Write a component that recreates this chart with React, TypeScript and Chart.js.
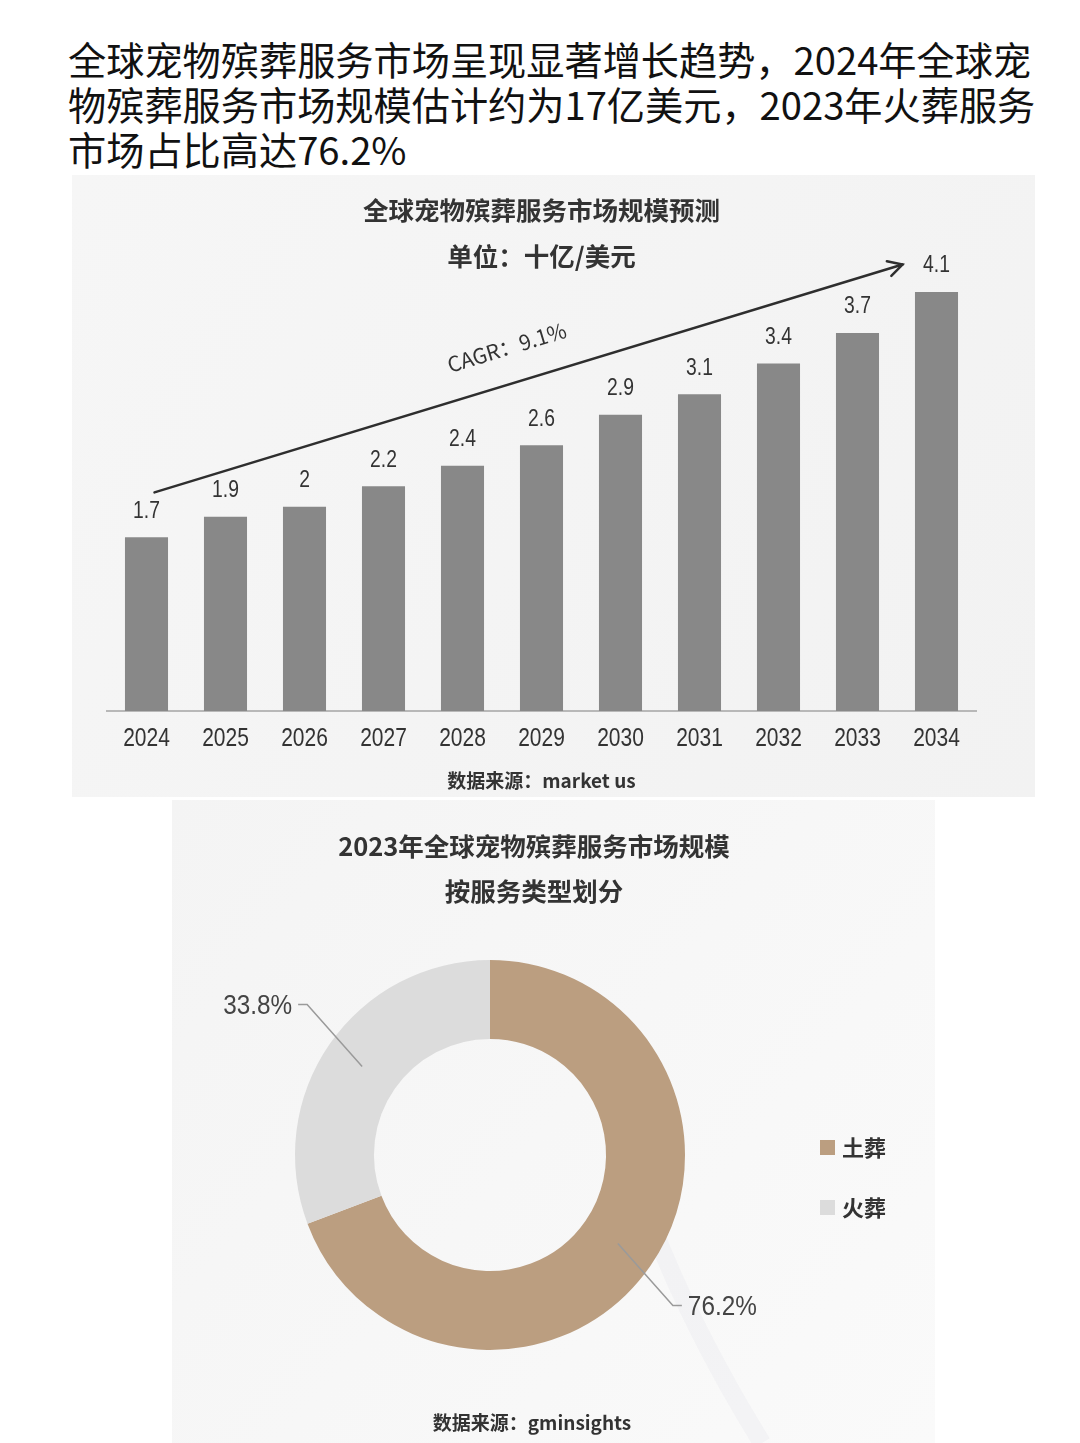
import React, { useEffect, useRef } from 'react';
import { Chart, registerables } from 'chart.js';

Chart.register(...registerables);

// ---------- data ----------
const headlineLines = [
  '全球宠物殡葬服务市场呈现显著增长趋势，2024年全球宠',
  '物殡葬服务市场规模估计约为17亿美元，2023年火葬服务',
  '市场占比高达76.2%',
];

const barTitle = '全球宠物殡葬服务市场规模预测';
const barUnit = '单位：十亿/美元';
const years = ['2024', '2025', '2026', '2027', '2028', '2029', '2030', '2031', '2032', '2033', '2034'];
const marketSize = [1.7, 1.9, 2, 2.2, 2.4, 2.6, 2.9, 3.1, 3.4, 3.7, 4.1];
const cagrLabel = 'CAGR：9.1%';
const barSource = '数据来源：market us';

const pieTitleLines = ['2023年全球宠物殡葬服务市场规模', '按服务类型划分'];
const serviceTypes = ['土葬', '火葬'];
const serviceShare = [76.2, 33.8];
const serviceLabels = ['76.2%', '33.8%'];
const pieSource = '数据来源：gminsights';

// ---------- styles ----------
const CJK = "'Noto Sans CJK SC', 'Noto Sans', sans-serif";
const LATIN = "'Liberation Sans', 'Noto Sans', sans-serif";
const BAR_COLOR = '#888888';
const PIE_COLORS = ['#bb9e80', '#dcdcdc'];

const BAR_W = 963;
const BAR_H = 622;
const PIE_W = 763;
const PIE_H = 643;

function narrowText(ctx: any, text: string, x: number, y: number, sx: number) {
  ctx.save();
  ctx.translate(x, y);
  ctx.scale(sx, 1);
  ctx.fillText(text, 0, 0);
  ctx.restore();
}

const barDecor = {
  id: 'barDecor',
  beforeDraw(chart: any) {
    const { ctx, width, height } = chart;
    ctx.save();
    const g = ctx.createLinearGradient(0, 0, width, height);
    g.addColorStop(0, '#f6f6f6');
    g.addColorStop(1, '#f2f2f2');
    ctx.fillStyle = g;
    ctx.fillRect(0, 0, width, height);
    ctx.restore();
  },
  afterDraw(chart: any) {
    const { ctx } = chart;
    const xs = chart.scales.x;
    const ys = chart.scales.y;
    const cx = (chart.chartArea.left + chart.chartArea.right) / 2;
    ctx.save();
    // titles
    ctx.fillStyle = '#333';
    ctx.textAlign = 'center';
    ctx.textBaseline = 'middle';
    ctx.font = `bold 25.5px ${CJK}`;
    ctx.fillText(barTitle, cx, 35);
    ctx.fillText(barUnit, cx, 81);
    ctx.font = `bold 19px ${CJK}`;
    ctx.fillText(barSource, cx, 606);

    // x tick labels (condensed)
    ctx.font = `25px ${LATIN}`;
    ctx.fillStyle = '#333';
    years.forEach((y, i) => {
      narrowText(ctx, y, xs.getPixelForTick(i), chart.chartArea.bottom + 28, 0.84);
    });

    // value labels
    const meta = chart.getDatasetMeta(0);
    ctx.font = `23px ${LATIN}`;
    meta.data.forEach((el: any, i: number) => {
      narrowText(ctx, String(marketSize[i]), el.x, el.y - 26, 0.84);
    });

    // CAGR arrow
    const x1 = xs.getPixelForValue(0) + 8;
    const y1 = ys.getPixelForValue(2.14);
    const x2 = xs.getPixelForValue(9.57);
    const y2 = ys.getPixelForValue(4.37);
    ctx.strokeStyle = '#2e2e2e';
    ctx.lineWidth = 2.5;
    ctx.lineCap = 'round';
    ctx.beginPath();
    ctx.moveTo(x1, y1);
    ctx.lineTo(x2, y2);
    ctx.stroke();
    const ang = Math.atan2(y2 - y1, x2 - x1);
    const head = 16;
    ctx.beginPath();
    ctx.moveTo(x2 - head * Math.cos(ang - 0.5), y2 - head * Math.sin(ang - 0.5));
    ctx.lineTo(x2, y2);
    ctx.lineTo(x2 - head * Math.cos(ang + 0.5), y2 - head * Math.sin(ang + 0.5));
    ctx.stroke();

    // CAGR text
    const t = 0.485;
    const px = x1 + (x2 - x1) * t;
    const py = y1 + (y2 - y1) * t;
    const off = 36;
    const nx = Math.sin(ang) * off;
    const ny = -Math.cos(ang) * off;
    ctx.translate(px + nx, py + ny);
    ctx.rotate(ang);
    ctx.font = `21px ${CJK}`;
    ctx.fillStyle = '#333';
    ctx.fillText(cagrLabel, 0, 0);
    ctx.restore();
  },
};

const pieDecor = {
  id: 'pieDecor',
  beforeDraw(chart: any) {
    const { ctx, width, height } = chart;
    ctx.save();
    const g = ctx.createLinearGradient(0, 0, width, height);
    g.addColorStop(0, '#f4f4f4');
    g.addColorStop(1, '#fafafa');
    ctx.fillStyle = g;
    ctx.fillRect(0, 0, width, height);
    // faint swoosh
    ctx.strokeStyle = 'rgba(234,236,240,0.45)';
    ctx.lineWidth = 18;
    ctx.beginPath();
    ctx.moveTo(478, 420);
    ctx.quadraticCurveTo(520, 530, 590, 643);
    ctx.stroke();
    ctx.restore();
  },
  afterDatasetsDraw(chart: any) {
    const { ctx } = chart;
    ctx.save();
    ctx.fillStyle = '#333';
    ctx.textAlign = 'center';
    ctx.textBaseline = 'middle';
    ctx.font = `bold 25.5px ${CJK}`;
    ctx.fillText(pieTitleLines[0], 362, 46);
    ctx.fillText(pieTitleLines[1], 362, 91);
    ctx.font = `bold 19px ${CJK}`;
    ctx.fillText(pieSource, 360, 623);

    // leader lines & labels
    const meta = chart.getDatasetMeta(0);
    meta.data.forEach((arc: any, i: number) => {
      const mid = (arc.startAngle + arc.endAngle) / 2;
      const r = (arc.innerRadius + arc.outerRadius) / 2;
      const sx = arc.x + Math.cos(mid) * r;
      const sy = arc.y + Math.sin(mid) * r;
      const dirX = Math.cos(mid) >= 0 ? 1 : -1;
      const dirY = Math.sin(mid) >= 0 ? 1 : -1;
      const ex = sx + dirX * 55;
      const ey = sy + dirY * 62;
      const hx = ex + dirX * 9;
      ctx.strokeStyle = '#9a9a9a';
      ctx.lineWidth = 1.5;
      ctx.beginPath();
      ctx.moveTo(sx, sy);
      ctx.lineTo(ex, ey);
      ctx.lineTo(hx, ey);
      ctx.stroke();
      ctx.fillStyle = '#444';
      ctx.font = `27px ${LATIN}`;
      ctx.textAlign = dirX > 0 ? 'left' : 'right';
      narrowText(ctx, serviceLabels[i], hx + dirX * 6, ey + 2, 0.9);
    });

    // legend
    const colors = chart.data.datasets[0].backgroundColor;
    chart.data.labels.forEach((lab: string, i: number) => {
      const y = 348 + i * 60;
      ctx.fillStyle = colors[i];
      ctx.fillRect(648, y - 8, 15, 15);
      ctx.fillStyle = '#333';
      ctx.font = `bold 22px ${CJK}`;
      ctx.textAlign = 'left';
      ctx.fillText(lab, 670, y);
    });
    ctx.restore();
  },
};

function BarPanel() {
  const ref = useRef<HTMLCanvasElement>(null);
  useEffect(() => {
    if (!ref.current) return;
    const chart = new Chart(ref.current, {
      type: 'bar',
      data: {
        labels: years,
        datasets: [
          {
            data: marketSize,
            backgroundColor: BAR_COLOR,
            barPercentage: 0.545,
            categoryPercentage: 1,
          },
        ],
      },
      options: {
        responsive: false,
        animation: false,
        devicePixelRatio: 1,
        layout: { padding: { left: 35, right: 59, top: 66, bottom: 28 } },
        plugins: { legend: { display: false }, tooltip: { enabled: false } },
        scales: {
          x: {
            grid: { display: false, drawTicks: false },
            border: { display: true, color: '#b8b8b8', width: 2 },
            ticks: {
              color: 'rgba(0,0,0,0)',
              font: { family: LATIN, size: 25 },
              padding: 14,
              autoSkip: false,
              maxRotation: 0,
            },
          },
          y: { display: false, min: 0, max: 4.6 },
        },
      },
      plugins: [barDecor],
    } as any);
    return () => chart.destroy();
  }, []);
  return <canvas ref={ref} width={BAR_W} height={BAR_H} style={{ position: 'absolute', left: 72, top: 175, width: BAR_W, height: BAR_H }} />;
}

function PiePanel() {
  const ref = useRef<HTMLCanvasElement>(null);
  useEffect(() => {
    if (!ref.current) return;
    const chart = new Chart(ref.current, {
      type: 'doughnut',
      data: {
        labels: serviceTypes,
        datasets: [
          {
            data: serviceShare,
            backgroundColor: PIE_COLORS,
            borderWidth: 0,
          },
        ],
      },
      options: {
        responsive: false,
        animation: false,
        devicePixelRatio: 1,
        cutout: '59.5%',
        layout: { padding: { left: 123, right: 250, top: 160, bottom: 93 } },
        plugins: { legend: { display: false }, tooltip: { enabled: false } },
      },
      plugins: [pieDecor],
    } as any);
    return () => chart.destroy();
  }, []);
  return <canvas ref={ref} width={PIE_W} height={PIE_H} style={{ position: 'absolute', left: 172, top: 800, width: PIE_W, height: PIE_H }} />;
}

export default function App() {
  return (
    <div style={{ position: 'absolute', left: 0, top: 0, width: 1080, height: 1443, background: '#fff', overflow: 'hidden' }}>
      <div
        style={{
          position: 'absolute',
          left: 68,
          top: 36,
          width: 1000,
          fontFamily: CJK,
          fontSize: 38.2,
          lineHeight: '45px',
          color: '#111',
          whiteSpace: 'nowrap',
        }}
      >
        {headlineLines.map((l, i) => (
          <div key={i}>{l}</div>
        ))}
      </div>
      <BarPanel />
      <PiePanel />
    </div>
  );
}
